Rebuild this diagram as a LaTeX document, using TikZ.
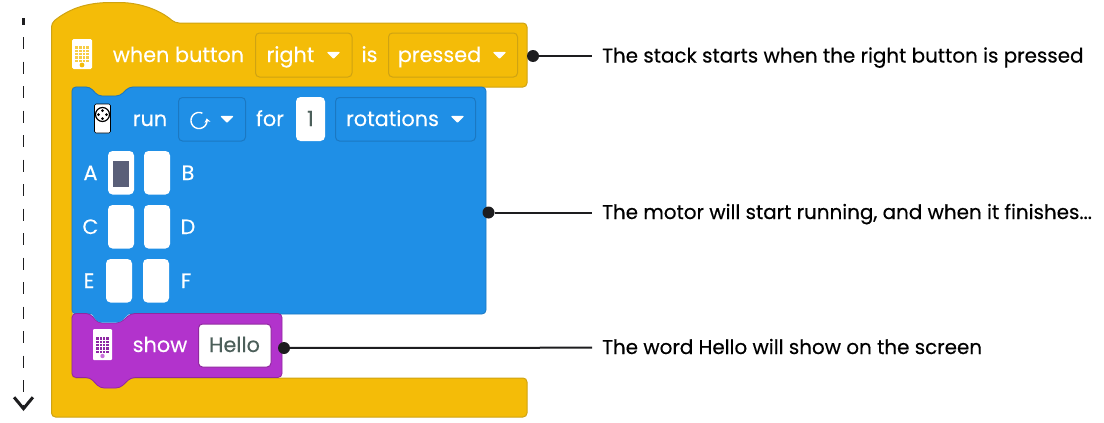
\documentclass[tikz,border=0pt]{standalone}
\usepackage{fontspec}
\setmainfont{Poppins}
\newfontfamily\notefont[FakeBold=0.4]{Poppins}
\newfontfamily\blockfont[FakeBold=0.15]{Poppins}
\usepackage{xcolor}
\definecolor{HatYellow}{HTML}{F4BC08}
\definecolor{HatEdge}{HTML}{CFA312}
\definecolor{MotorBlue}{HTML}{1F8FE6}
\definecolor{MotorEdge}{HTML}{1B78C2}
\definecolor{ShowPurple}{HTML}{B233CC}
\definecolor{ShowEdge}{HTML}{90289F}
\definecolor{NoteInk}{HTML}{1D1D1F}
\definecolor{SlotGrey}{HTML}{5A5F78}
\definecolor{ValueInk}{HTML}{4C5F5A}
\usetikzlibrary{arrows.meta}
\tikzset{
  btext/.style={text=white,font=\blockfont\fontsize{20.8}{22}\selectfont,inner sep=0pt,anchor=center,text height=17pt,text depth=3pt},
  vtext/.style={text=ValueInk,font=\blockfont\fontsize{20.8}{22}\selectfont,inner sep=0pt,anchor=center,text height=17pt,text depth=3pt},
  note/.style={text=black,font=\notefont\fontsize{19.9}{22}\selectfont,anchor=west,inner sep=0pt,inner xsep=10pt,text height=16pt,text depth=3pt},
  notedot/.style={circle,fill=NoteInk,inner sep=0pt,minimum size=12pt},
  noteline/.style={draw=NoteInk,line width=2pt},
  yfield/.style={draw=HatEdge,fill=HatYellow,rounded corners=4pt,line width=1pt},
  bfield/.style={draw=MotorEdge,fill=MotorBlue,rounded corners=4pt,line width=1pt},
  socket/.style={fill=white,rounded corners=4.5pt},
  droptip/.style={fill=white,draw=white,line width=1.2pt,line join=round}
}
\newcommand{\droparrow}[2]{\path[droptip] (#1-5.5,#2-2.5) -- (#1+5.5,#2-2.5) -- (#1,#2+3) -- cycle;}
\begin{document}
\begin{tikzpicture}[x=1pt,y=-1pt]
  \useasboundingbox (0,0) rectangle (1104,423);
  % run direction
  \coordinate (flowtop) at (23.5,37);
  \coordinate (flowend) at (23.5,411);
  \fill[NoteInk] (22,18) rectangle (25,25);
  \draw[NoteInk,line width=1pt,dash pattern=on 12pt off 12.5pt,-{Straight Barb[length=4mm,width=6.6mm,line width=3pt]}] (flowtop) -- (flowend);
  % hat block with its arm and foot
  \draw[HatEdge,fill=HatYellow,line width=1pt,rounded corners=4pt] (51.5,23) .. controls (70,8) and (88,2.5) .. (115,2.5) .. controls (140,2.5) and (160,10) .. (175,23)
    -- (527,23) -- (527,87) -- (129,87) -- (120,96) -- (98,96) -- (90,87) -- (72,87) -- (72,378) -- (527,378) -- (527,417) -- (51.5,417) -- cycle;
  \draw[yfield] (255.5,33) rectangle (352,77);
  \draw[yfield] (388.5,33) rectangle (517.5,77);
  \node[btext] (whenbutton) at (178.5,55) {when button};
  \node[btext] (right) at (290.5,55) {right};
  \node[btext] (is) at (369.5,55) {is};
  \node[btext] (pressed) at (439.5,55) {pressed};
  \droparrow{333.5}{55}
  \droparrow{499.5}{55}
  % controller icon
  \fill[white,rounded corners=1.5pt] (72,39) rectangle (92,69);
  \fill[HatYellow!75!white] (75,46) rectangle (89,62);
  \foreach \i in {1,2,3} {\draw[white,line width=.5pt] (75+3.5*\i,46) -- (75+3.5*\i,62);}
  \foreach \i in {1,...,4} {\draw[white,line width=.5pt] (75,46+3.2*\i) -- (89,46+3.2*\i);}
  \fill[HatYellow] (82,65) circle[radius=2.4];
  % motor block
  \draw[MotorEdge,fill=MotorBlue,line width=.8pt,rounded corners=4pt] (72,87) -- (90,87) -- (98,96) -- (120,96) -- (129,87) -- (486,87) -- (486,314) -- (72,314) -- cycle;
  \draw[bfield] (178.5,97.5) rectangle (245.5,141);
  \draw[bfield] (335.5,97.5) rectangle (475.5,141);
  \fill[socket] (296,97) rectangle (325,141);
  \node[btext] (run) at (150,119) {run};
  \draw[white,line width=1.4pt,-{Stealth[length=4pt,width=6pt]}] plot[domain=-65:-375,samples=40,variable=\t] ({199+8*cos(\t)},{120.5+8*sin(\t)});
  \droparrow{227}{119}
  \node[btext] (for) at (270,119) {for};
  \node[vtext] (count) at (310.5,119) {1};
  \node[btext] (rotations) at (392.5,119) {rotations};
  \droparrow{457.5}{119}
  % motor icon
  \draw[black,fill=white,rounded corners=1.5pt,line width=.7pt] (94.5,104) rectangle (110.5,133);
  \draw[black,fill=white,line width=1.2pt] (102.5,114.5) circle[radius=7];
  \foreach \a in {0,90,180,270} {\fill[black] (102.5,114.5) ++(\a:4) circle[radius=1.5];}
  % motor ports
  \foreach \n/\x/\y in {A/108/151,B/144/151,C/108/205,D/144/205,E/106/259,F/143/259} {
    \fill[socket] (\x,\y) rectangle (\x+26,\y+43.5);
  }
  \fill[SlotGrey] (113,161) rectangle (129,187);
  \node[btext] (portA) at (90.5,173) {A};
  \node[btext] (portB) at (188,173) {B};
  \node[btext] (portC) at (90.5,227) {C};
  \node[btext] (portD) at (188,227) {D};
  \node[btext] (portE) at (89,281) {E};
  \node[btext] (portF) at (186,281) {F};
  % show block
  \draw[ShowEdge,fill=ShowPurple,line width=.8pt,rounded corners=4pt] (72,313.5) -- (90,313.5) -- (98,323) -- (120,323) -- (131,313.5) -- (282,313.5) -- (282,377.5) -- (131,377.5) -- (120,388) -- (100,388) -- (90,377.5) -- (72,377.5) -- cycle;
  \fill[MotorBlue,rounded corners=3pt] (90,312) -- (98,322.5) -- (120,322.5) -- (131,312) -- cycle;
  \draw[ShowEdge,fill=white,rounded corners=4pt,line width=1pt] (198.5,324) rectangle (271,367);
  \node[btext] (show) at (160,345) {show};
  \node[vtext] (hello) at (234.5,345) {Hello};
  % screen icon
  \fill[white,rounded corners=1pt] (93,329) rectangle (112,360);
  \fill[ShowPurple!80!black] (95.5,337) rectangle (109,353);
  \foreach \i in {1,2,3} {\draw[white,line width=.5pt] (95.5+3.4*\i,337) -- (95.5+3.4*\i,353);}
  \foreach \i in {1,...,4} {\draw[white,line width=.5pt] (95.5,337+3.2*\i) -- (109,337+3.2*\i);}
  \fill[ShowPurple!70!white] (102.5,356) circle[radius=2.2];
  % notes
  \node[notedot] (dotstart) at (533,56) {};
  \node[notedot] (dotmotor) at (488.5,212.5) {};
  \node[notedot] (dotshow) at (284,348) {};
  \node[note] (notestart) at (592,56) {The stack starts when the right button is pressed};
  \node[note] (notemotor) at (592,212.5) {The motor will start running, and when it finishes...};
  \node[note] (noteshow) at (592,347.5) {The word Hello will show on the screen};
  \draw[noteline] (dotstart) -- (notestart);
  \draw[noteline] (dotmotor) -- (notemotor);
  \draw[noteline] (dotshow) -- (noteshow);
\end{tikzpicture}
\end{document}
